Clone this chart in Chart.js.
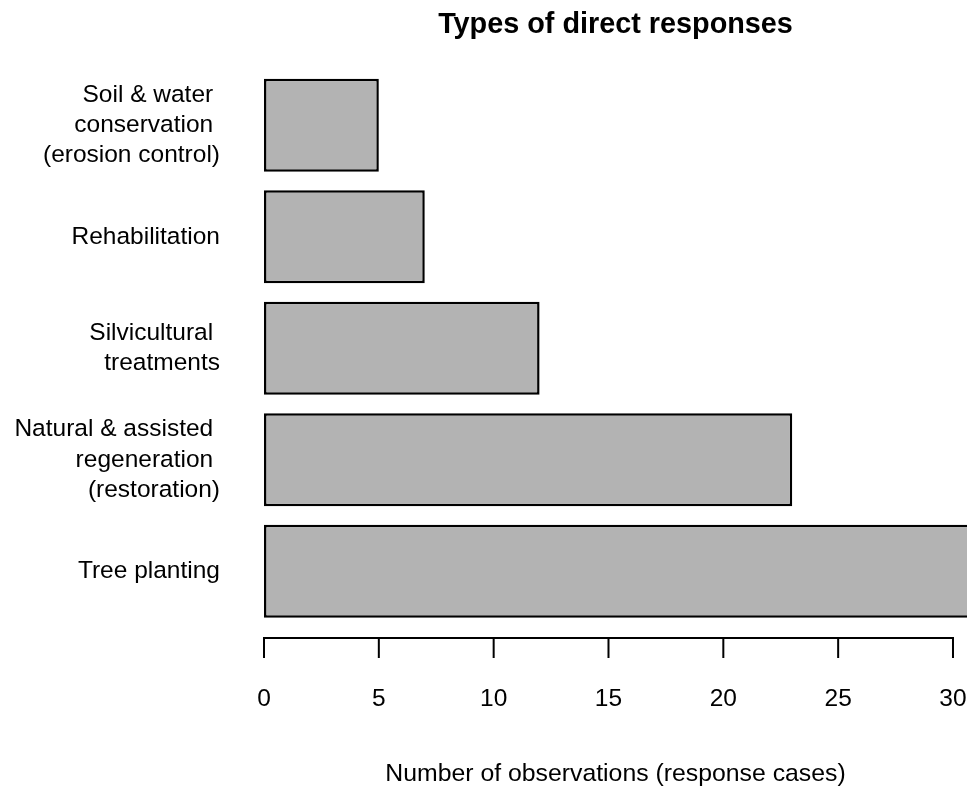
<!DOCTYPE html>
<html>
<head>
<meta charset="utf-8">
<script src="https://cdn.jsdelivr.net/npm/chart.js@4"></script>
<style>
  html, body { margin: 0; padding: 0; background: #ffffff; }
  canvas { display: block; }
</style>
</head>
<body>
<canvas id="c" width="967" height="787"></canvas>
<script>
const categories = [
  ["Soil & water ", "conservation ", "(erosion control)"],
  ["Rehabilitation"],
  ["Silvicultural ", "treatments"],
  ["Natural & assisted ", "regeneration ", "(restoration)"],
  ["Tree planting"]
];
const observations = [5, 7, 12, 23, 31];
const tickValues = [0, 5, 10, 15, 20, 25, 30];
const chartTitle = "Types of direct responses";
const xAxisTitle = "Number of observations (response cases)";

const FONT = "'Liberation Sans', Arial, Helvetica, sans-serif";

const axisPlugin = {
  id: 'rAxis',
  afterDraw(chart) {
    const ctx = chart.ctx;
    const xs = chart.scales.x;
    const y0 = chart.chartArea.bottom + 11;
    const x0 = xs.getPixelForValue(tickValues[0]);
    const x1 = xs.getPixelForValue(tickValues[tickValues.length - 1]);
    ctx.save();
    ctx.strokeStyle = '#000';
    ctx.lineWidth = 2;
    ctx.lineCap = 'butt';
    ctx.beginPath();
    ctx.moveTo(x0 - 1, y0);
    ctx.lineTo(x1 + 1, y0);
    tickValues.forEach(v => {
      const px = xs.getPixelForValue(v);
      ctx.moveTo(px, y0);
      ctx.lineTo(px, y0 + 20);
    });
    ctx.stroke();
    ctx.restore();
  }
};

new Chart(document.getElementById('c'), {
  type: 'bar',
  data: {
    labels: categories,
    datasets: [{
      data: observations,
      backgroundColor: '#b3b3b3',
      borderColor: '#000000',
      borderWidth: 2.5,
      borderSkipped: false,
      barPercentage: 0.8333,
      categoryPercentage: 1.0
    }]
  },
  options: {
    indexAxis: 'y',
    responsive: false,
    animation: false,
    devicePixelRatio: 1,
    layout: { padding: 0 },
    plugins: {
      legend: { display: false },
      tooltip: { enabled: false },
      title: {
        display: true,
        text: chartTitle,
        fullSize: false,
        color: '#000',
        font: { family: FONT, size: 28.8, weight: 'bold', lineHeight: 1.2 },
        padding: { top: 8, bottom: 27 }
      }
    },
    scales: {
      x: {
        type: 'linear',
        min: 0,
        max: 30.61,
        grid: { display: false, drawTicks: true, tickLength: 58 },
        border: { display: false },
        ticks: {
          stepSize: 5,
          includeBounds: false,
          color: '#000',
          padding: 0,
          font: { family: FONT, size: 24.5, lineHeight: 1.2 },
          maxRotation: 0
        },
        afterBuildTicks(scale) {
          scale.ticks = scale.ticks.filter(t => tickValues.includes(t.value));
        },
        afterFit(scale) {
          scale.height = 160;
        },
        title: {
          display: true,
          text: xAxisTitle,
          color: '#000',
          font: { family: FONT, size: 24.8, lineHeight: 1.2 },
          padding: { top: 0, bottom: -2 }
        }
      },
      y: {
        type: 'category',
        offset: true,
        grid: { display: false, drawTicks: false },
        border: { display: false },
        ticks: {
          color: '#000',
          padding: 44,
          font: { family: FONT, size: 24.5, lineHeight: 1.23 }
        },
        afterFit(scale) {
          scale.width = 264;
        }
      }
    }
  },
  plugins: [axisPlugin]
});
</script>
</body>
</html>
